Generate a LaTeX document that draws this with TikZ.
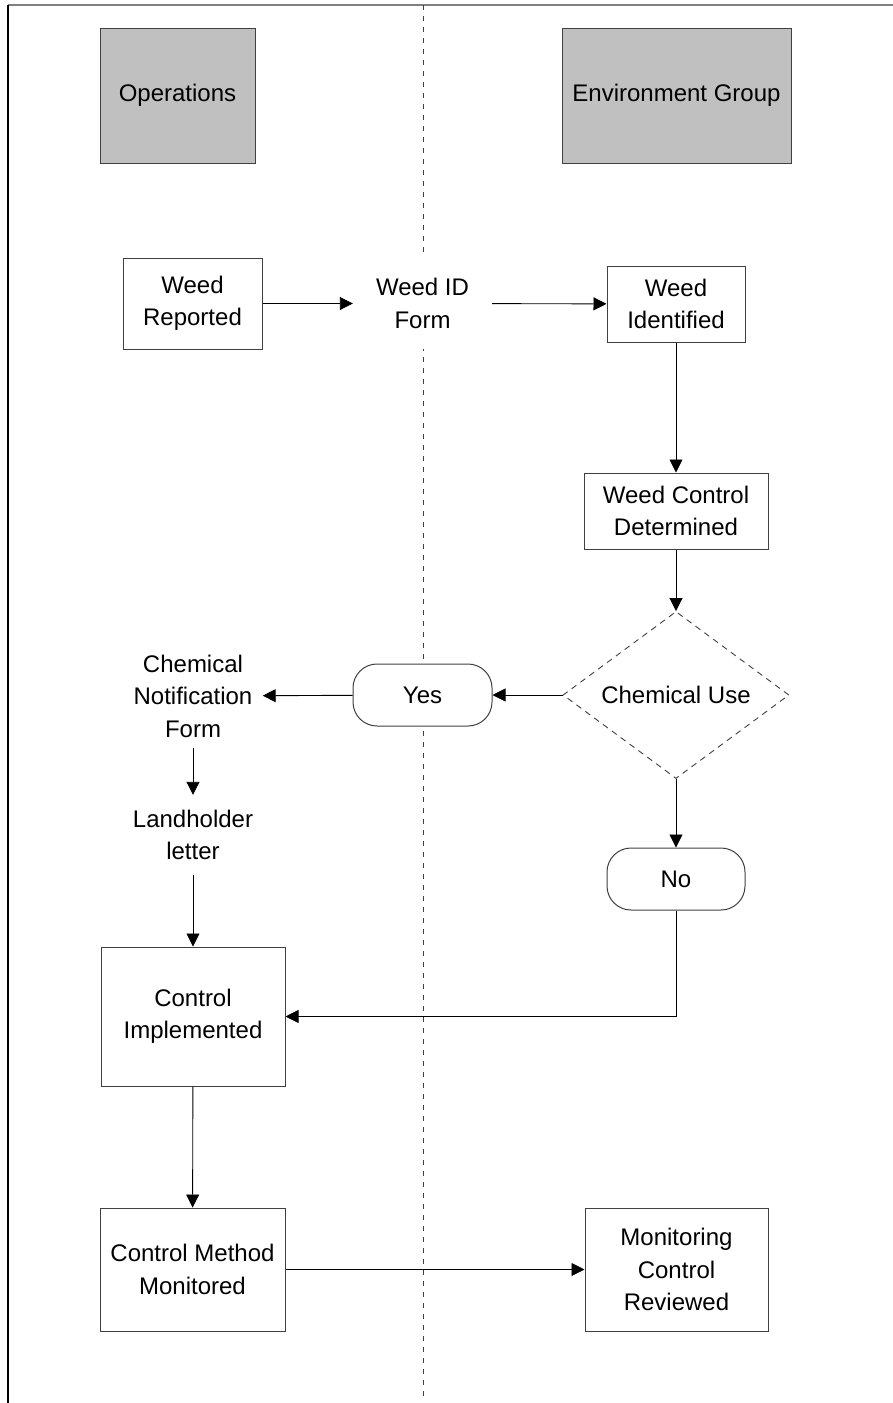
\documentclass[tikz,border=0pt]{standalone}
\usepackage{fontspec}
\setmainfont{Liberation Sans}
\usetikzlibrary{shapes.geometric,arrows.meta}
\definecolor{hdrgray}{HTML}{C0C0C0}
\definecolor{edgec}{HTML}{404040}
\definecolor{framegray}{HTML}{808080}
\begin{document}
\begin{tikzpicture}[x=1pt,y=-1pt,
  every node/.style={font=\fontsize{24}{32.5}\selectfont, align=center, inner sep=0pt},
  box/.style={draw=edgec, fill=white, line width=1pt},
  hdr/.style={draw=edgec, fill=hdrgray, line width=1pt},
  txt/.style={fill=white},
  term/.style={draw=edgec, fill=white, line width=1pt, rounded corners=24pt},
  dec/.style={shape=diamond, draw=edgec, fill=white, line width=0.9pt, dash pattern=on 6pt off 5pt, minimum width=226pt, minimum height=167pt, aspect=1.35},
  arr/.style={draw=black, line width=0.9pt, -{Triangle[length=13pt,width=13pt]}},
  lane/.style={draw=edgec, line width=0.9pt, dash pattern=on 5pt off 6pt}
]
\useasboundingbox (0,0) rectangle (893,1403);
% frame
\draw[framegray, line width=2pt] (8,5) -- (893,5);
\draw[black, line width=1.3pt] (8,5) -- (8,1403);
% lane divider
\coordinate (laneTop) at (423,5);
\coordinate (laneBot) at (423,1397);
\draw[lane] (laneTop) -- (laneBot);
% headers
\node[hdr, minimum width=155pt, minimum height=135pt] (ops) at (177.5,95.5) {Operations};
\node[hdr, minimum width=229pt, minimum height=135pt] (env) at (676.5,95.5) {Environment Group};
% nodes
\node[box, minimum width=139pt, minimum height=91pt] (wr) at (192.5,303.5) {Weed\\Reported};
\node[txt, minimum width=139pt, minimum height=91pt] (wif) at (422.5,303.5) {Weed ID\\Form};
\node[box, minimum width=138pt, minimum height=76pt] (wi) at (676,304) {Weed\\Identified};
\node[box, minimum width=184pt, minimum height=76pt] (wcd) at (676,511) {Weed Control\\Determined};
\node[dec] (cu) at (676,695) {Chemical Use};
\node[term, minimum width=139pt, minimum height=62pt] (yes) at (422.5,695) {Yes};
\node[txt, minimum width=139pt, minimum height=104pt] (cnf) at (193,696) {Chemical\\Notification\\Form};
\node[txt, minimum width=139pt, minimum height=80pt] (lh) at (193,835) {Landholder\\letter};
\node[term, minimum width=138pt, minimum height=62pt] (no) at (676,879) {No};
\node[box, minimum width=184pt, minimum height=139pt] (ci) at (193,1016.5) {Control\\Implemented};
\node[box, minimum width=185pt, minimum height=123pt] (cmm) at (192.5,1269.5) {Control Method\\Monitored};
\node[box, minimum width=183pt, minimum height=123pt] (mcr) at (676.5,1269.5) {Monitoring\\Control\\Reviewed};
% connectors
\draw[arr] (wr) -- (wif);
\draw[arr] (wif) -- (wi);
\draw[arr] (wi) -- (wcd);
\draw[arr] (wcd) -- (cu);
\draw[arr] (cu) -- (yes);
\draw[arr] (yes) -- (cnf);
\draw[arr] (cnf) -- (lh);
\draw[arr] (lh) -- (ci);
\draw[arr] (cu) -- (no);
\draw[arr] (no.south) |- (ci.east);
\draw[arr] (ci) -- (cmm);
\draw[arr] (cmm) -- (mcr);
\end{tikzpicture}
\end{document}
